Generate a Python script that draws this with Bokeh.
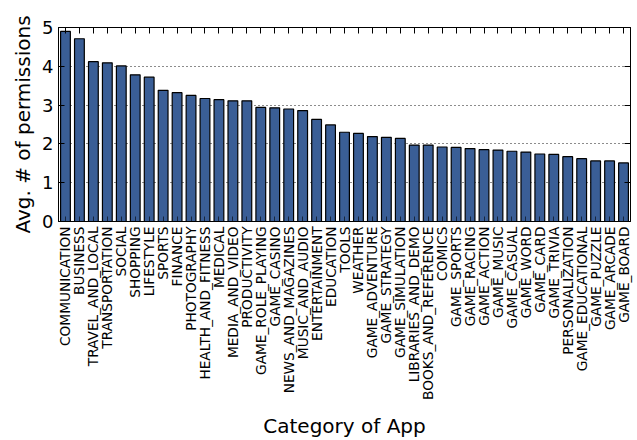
import math
from bokeh.plotting import figure
from bokeh.models import (ColumnDataSource, FixedTicker, CategoricalAxis, LinearAxis,
                          Range1d, CustomLabelingPolicy)
from bokeh.embed import file_html
from bokeh.resources import INLINE

categories = [
    "COMMUNICATION", "BUSINESS", "TRAVEL_AND_LOCAL", "TRANSPORTATION", "SOCIAL",
    "SHOPPING", "LIFESTYLE", "SPORTS", "FINANCE", "PHOTOGRAPHY",
    "HEALTH_AND_FITNESS", "MEDICAL", "MEDIA_AND_VIDEO", "PRODUCTIVITY", "GAME_ROLE_PLAYING",
    "GAME_CASINO", "NEWS_AND_MAGAZINES", "MUSIC_AND_AUDIO", "ENTERTAINMENT", "EDUCATION",
    "TOOLS", "WEATHER", "GAME_ADVENTURE", "GAME_STRATEGY", "GAME_SIMULATION",
    "LIBRARIES_AND_DEMO", "BOOKS_AND_REFERENCE", "COMICS", "GAME_SPORTS", "GAME_RACING",
    "GAME_ACTION", "GAME_MUSIC", "GAME_CASUAL", "GAME_WORD", "GAME_CARD",
    "GAME_TRIVIA", "PERSONALIZATION", "GAME_EDUCATIONAL", "GAME_PUZZLE", "GAME_ARCADE",
    "GAME_BOARD",
]
avg_permissions = [
    4.90, 4.71, 4.12, 4.09, 4.01,
    3.78, 3.72, 3.38, 3.32, 3.25,
    3.17, 3.14, 3.11, 3.11, 2.94,
    2.93, 2.90, 2.86, 2.63, 2.49,
    2.30, 2.27, 2.19, 2.17, 2.14,
    1.97, 1.97, 1.92, 1.91, 1.88,
    1.85, 1.84, 1.81, 1.79, 1.74,
    1.73, 1.67, 1.62, 1.56, 1.56,
    1.51,
]
y_ticks = [0, 1, 2, 3, 4, 5]

FONT = "DejaVu Sans"

source = ColumnDataSource(data=dict(cat=categories, val=avg_permissions))

p = figure(
    x_range=categories, y_range=Range1d(0, 5),
    width=637, height=440,
    output_backend="svg", toolbar_location=None,
    min_border_left=58, min_border_top=27, min_border_right=5, min_border_bottom=217,
    x_axis_location="below",
)
p.background_fill_color = "white"
p.border_fill_color = "white"
p.outline_line_color = "black"
p.outline_line_width = 1

p.vbar(x="cat", top="val", width=0.7, source=source,
       fill_color="#3a5e96", line_color="black", line_width=1.2)

# grids
p.xgrid.grid_line_color = None
p.ygrid.ticker = FixedTicker(ticks=y_ticks)
p.ygrid.grid_line_color = "black"
p.ygrid.grid_line_dash = "1 3"
p.ygrid.grid_line_width = 1
p.ygrid.grid_line_alpha = 0.9

# bottom axis
xa = p.xaxis[0]
xa.major_label_orientation = math.pi / 2
xa.major_label_text_font = FONT
xa.major_label_text_font_size = "13.7px"
xa.major_label_text_color = "black"
xa.major_label_standoff = 5
xa.major_tick_in = 5
xa.major_tick_out = 0
xa.major_tick_line_color = "black"
xa.major_tick_line_alpha = 0.6
xa.axis_line_color = "black"
xa.axis_label = "Category of App"
xa.axis_label_text_font = FONT
xa.axis_label_text_font_size = "20px"
xa.axis_label_text_font_style = "normal"
xa.axis_label_text_color = "black"
xa.axis_label_standoff = 11

# left axis
ya = p.yaxis[0]
ya.ticker = FixedTicker(ticks=y_ticks)
ya.minor_tick_line_color = None
ya.major_tick_in = 6
ya.major_tick_out = 0
ya.major_tick_line_color = "black"
ya.axis_line_color = "black"
ya.major_label_text_font = FONT
ya.major_label_text_font_size = "18px"
ya.major_label_text_color = "black"
ya.major_label_standoff = 5
ya.axis_label = "Avg. # of permissions"
ya.axis_label_text_font = FONT
ya.axis_label_text_font_size = "20px"
ya.axis_label_text_font_style = "normal"
ya.axis_label_text_color = "black"
ya.axis_label_standoff = 4

hide_all = CustomLabelingPolicy(code="return []")

# top axis (ticks only)
top = CategoricalAxis()
top.major_label_policy = hide_all
top.major_label_text_font_size = "8px"
top.major_label_standoff = 0
top.major_tick_in = 6
top.major_tick_out = 0
top.major_tick_line_color = "black"
top.axis_line_color = "black"
p.add_layout(top, "above")

# right axis (ticks only)
right = LinearAxis(ticker=FixedTicker(ticks=y_ticks))
right.major_label_policy = CustomLabelingPolicy(code="return []")
right.major_label_text_font_size = "8px"
right.major_label_standoff = 0
right.major_tick_in = 6
right.major_tick_out = 0
right.minor_tick_line_color = None
right.major_tick_line_color = "black"
right.axis_line_color = "black"
p.add_layout(right, "right")

open("out.html", "w").write(file_html(p, INLINE))
